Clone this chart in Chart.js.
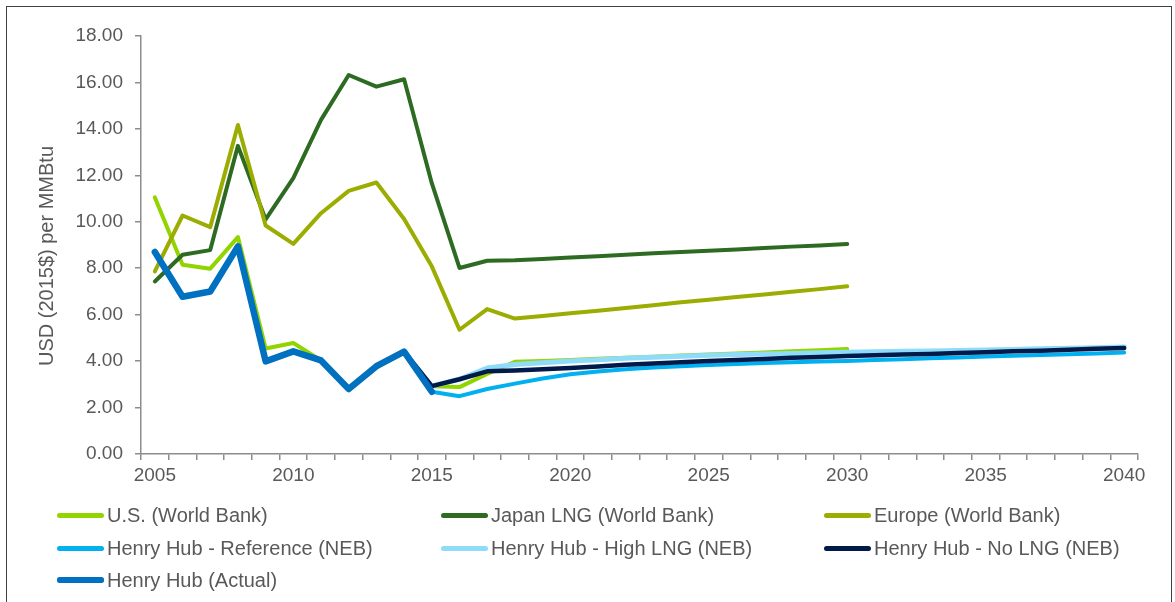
<!DOCTYPE html>
<html><head><meta charset="utf-8">
<script src="https://cdn.jsdelivr.net/npm/chart.js@4/dist/chart.umd.min.js"></script>
<style>
html,body{margin:0;padding:0;background:#fff;}
#wrap{position:relative;width:1175px;height:602px;overflow:hidden;font-family:"Liberation Sans",Arial,sans-serif;}
#frame{position:absolute;left:6px;top:6px;width:1166px;height:700px;border:1px solid #404040;box-sizing:border-box;}
#c{position:absolute;left:0;top:0;}
.item{position:absolute;display:flex;align-items:center;font-size:20px;color:#595959;white-space:nowrap;height:24px;transform:translateY(-50%);}
.swatch{width:47px;height:5px;border-radius:2.5px;margin-right:3px;}
</style></head>
<body>
<div id="wrap">
<div id="frame"></div>
<canvas id="c" width="1175" height="602"></canvas>
<div id="legend"></div>
</div>
<script>
const years = [2005,2006,2007,2008,2009,2010,2011,2012,2013,2014,2015,2016,2017,2018,2019,2020,2021,2022,2023,2024,2025,2026,2027,2028,2029,2030,2031,2032,2033,2034,2035,2036,2037,2038,2039,2040];
const yTicks = [0,2,4,6,8,10,12,14,16,18];
const yTitle = 'USD (2015$) per MMBtu';
const seriesNames = ["U.S. (World Bank)","Japan LNG (World Bank)","Europe (World Bank)","Henry Hub - Reference (NEB)","Henry Hub - High LNG (NEB)","Henry Hub - No LNG (NEB)","Henry Hub (Actual)"];
const usWorldBank = [11.05,8.15,7.98,9.34,4.54,4.78,4.03,2.77,3.72,4.37,2.92,2.88,3.45,3.97,4.01,4.05,4.10,4.14,4.19,4.24,4.28,4.33,4.37,4.42,4.47,4.52,null,null,null,null,null,null,null,null,null,null];
const japanLNG = [7.43,8.58,8.78,13.27,10.10,11.88,14.39,16.32,15.82,16.14,11.66,8.01,8.32,8.34,8.40,8.46,8.52,8.58,8.64,8.70,8.75,8.81,8.87,8.93,8.98,9.04,null,null,null,null,null,null,null,null,null,null];
const europe = [7.86,10.27,9.77,14.17,9.84,9.05,10.37,11.33,11.69,10.12,8.08,5.35,6.24,5.83,5.94,6.06,6.17,6.29,6.41,6.53,6.64,6.76,6.87,6.99,7.10,7.22,null,null,null,null,null,null,null,null,null,null];
const hhReference = [null,null,null,null,null,null,null,null,null,4.41,2.68,2.49,2.80,3.03,3.25,3.43,3.55,3.65,3.72,3.78,3.83,3.88,3.92,3.95,3.98,4.01,4.05,4.08,4.12,4.16,4.20,4.23,4.26,4.30,4.33,4.37];
const hhHighLNG = [null,null,null,null,null,null,null,null,null,4.41,2.92,3.22,3.70,3.85,3.93,4.00,4.06,4.12,4.17,4.21,4.25,4.28,4.31,4.33,4.36,4.38,4.40,4.42,4.44,4.46,4.48,4.50,4.53,4.55,4.58,4.61];
const hhNoLNG = [null,null,null,null,null,null,null,null,null,4.41,2.92,3.22,3.56,3.60,3.65,3.70,3.77,3.84,3.90,3.95,4.00,4.05,4.09,4.14,4.18,4.22,4.25,4.28,4.31,4.35,4.38,4.42,4.45,4.49,4.53,4.56];
const hhActual = [8.70,6.77,7.00,8.94,3.99,4.42,4.03,2.80,3.78,4.41,2.68,null,null,null,null,null,null,null,null,null,null,null,null,null,null,null,null,null,null,null,null,null,null,null,null,null];

const seriesData = [usWorldBank, japanLNG, europe, hhReference, hhHighLNG, hhNoLNG, hhActual];
const colors = ["#92D400","#2E6B22","#9AAD00","#00B0F0","#8EDCFA","#021A4A","#0070C0"];
const widths = [4,4,4,4,5,4.5,6.5];
const legendPos = [[57,515],[441,515],[824,515],[57,548],[441,548],[824,548],[57,580]];

const datasets = seriesData.map((d,i)=>({
  label: seriesNames[i], data: d, borderColor: colors[i], backgroundColor: colors[i],
  borderWidth: widths[i], pointRadius: 0, pointHoverRadius: 0, tension: 0, fill: false,
  borderCapStyle: 'round', borderJoinStyle: 'round', spanGaps: false, order: 7 - i
}));

const tickColor = '#595959';
const axisColor = '#8C8C8C';
const fontFam = '"Liberation Sans", Arial, sans-serif';

const yTitlePlugin = {
  id: 'yTitle',
  afterDraw(chart) {
    const ctx = chart.ctx;
    ctx.save();
    ctx.translate(47, 256);
    ctx.rotate(-Math.PI / 2);
    ctx.font = '20px ' + fontFam;
    ctx.fillStyle = tickColor;
    ctx.textAlign = 'center';
    ctx.textBaseline = 'middle';
    ctx.fillText(yTitle, 0, 0);
    ctx.restore();
  }
};

new Chart(document.getElementById('c'), {
  type: 'line',
  data: { labels: years, datasets },
  plugins: [yTitlePlugin],
  options: {
    responsive: false, animation: false, devicePixelRatio: 1,
    layout: { padding: { left: 0, top: 36, right: 37, bottom: 0 } },
    plugins: { legend: { display: false }, tooltip: { enabled: false } },
    scales: {
      x: {
        type: 'category', offset: true,
        grid: { display: true, drawOnChartArea: false, drawTicks: true, tickLength: 6, offset: true, color: axisColor, lineWidth: 1.5 },
        border: { color: axisColor, width: 1.5 },
        ticks: { autoSkip: false, maxRotation: 0, minRotation: 0, padding: 4, color: tickColor,
          font: { family: fontFam, size: 19 },
          callback: (v, i) => (years[i] % 5 === 0 ? String(years[i]) : '') },
        afterFit: s => { s.height = 148; }
      },
      y: {
        min: 0, max: 18,
        afterBuildTicks: s => { s.ticks = yTicks.map(v => ({ value: v })); },
        grid: { display: true, drawOnChartArea: false, drawTicks: true, tickLength: 6, color: axisColor, lineWidth: 1.5 },
        border: { color: axisColor, width: 1.5 },
        ticks: { padding: 12, color: tickColor, font: { family: fontFam, size: 19 },
          callback: v => Number(v).toFixed(2) },
        afterFit: s => { s.width = 141; }
      }
    }
  }
});

const leg = document.getElementById('legend');
seriesNames.forEach((n,i)=>{
  const it = document.createElement('div');
  it.className = 'item';
  it.style.left = legendPos[i][0] + 'px';
  it.style.top = legendPos[i][1] + 'px';
  const sw = document.createElement('span');
  sw.className = 'swatch';
  sw.style.background = colors[i];
  if (i === 6) sw.style.height = '6px';
  const tx = document.createElement('span');
  tx.textContent = n;
  it.appendChild(sw); it.appendChild(tx);
  leg.appendChild(it);
});
</script>
</body></html>
